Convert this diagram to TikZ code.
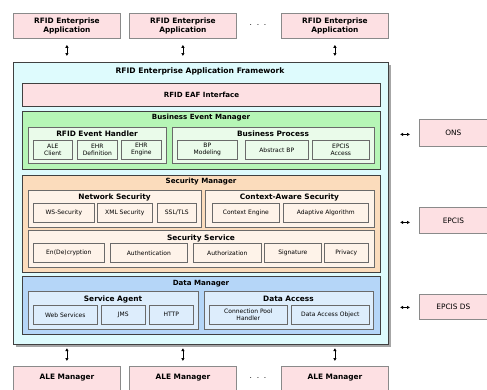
\documentclass[tikz,border=0pt]{standalone}
\usepackage{fontspec}
\setmainfont{DejaVu Sans}
\usetikzlibrary{arrows.meta}

\definecolor{pinkfill}{HTML}{FDE0E3}
\definecolor{framefill}{HTML}{DEFBFD}
\definecolor{greenfill}{HTML}{B6F6B6}
\definecolor{greenlite}{HTML}{EAFBEA}
\definecolor{peachfill}{HTML}{FBDCBC}
\definecolor{peachlite}{HTML}{FEF3E9}
\definecolor{bluefill}{HTML}{B5D6F8}
\definecolor{bluelite}{HTML}{DDEDFC}
\definecolor{darkline}{HTML}{404040}
\definecolor{midline}{HTML}{6A6A6A}
\definecolor{softline}{HTML}{8A8A8A}

% box with top-left corner (#2,#3) and bottom-right corner (#4,#5)
\newcommand\bx[7]{\node[#6, anchor=north west, inner sep=0pt,
  minimum width={(#4-(#2))*1pt}, minimum height={(#5-(#3))*1pt}] (#1) at (#2,#3) {#7};}

\tikzset{
  appbox/.style={draw=softline, line width=0.8pt, fill=pinkfill, align=center,
    font=\fontsize{7.4}{8.2}\selectfont\bfseries},
  extbox/.style={draw=softline, line width=0.8pt, fill=pinkfill,
    font=\fontsize{7.4}{8}\selectfont},
  layer/.style={draw=darkline, line width=1.1pt},
  group/.style={draw=midline, line width=0.8pt},
  item/.style={draw=midline, line width=0.6pt, align=center,
    font=\fontsize{6}{7}\selectfont},
  ttl/.style={font=\fontsize{7.1}{8}\selectfont\bfseries, inner sep=0pt},
  gttl/.style={font=\fontsize{7.4}{8}\selectfont\bfseries, inner sep=0pt},
  dots/.style={font=\fontsize{7.5}{8}\selectfont, inner sep=0pt},
  link/.style={line width=0.7pt, {Latex[length=3pt,width=3.6pt]}-{Latex[length=3pt,width=3.6pt]}},
}

\begin{document}
\begin{tikzpicture}[x=1pt, y=-1pt]
\useasboundingbox[fill=white] (0,0) rectangle (487,389);

% applications on top
\bx{app1}{13}{13}{120}{38}{appbox}{RFID Enterprise\\Application}
\bx{app2}{129}{13}{236}{38}{appbox}{RFID Enterprise\\Application}
\bx{app3}{281}{13}{388}{38}{appbox}{RFID Enterprise\\Application}
\node[dots] (topdots) at (258,25) {.\ \ .\ \ .};

% framework with its shadow
\fill[black!35] (15.5,64.5) rectangle (390.5,346.5);
\bx{frame}{13}{62}{388}{344}{layer, fill=framefill}{}
\node[ttl, font=\fontsize{7.6}{8}\selectfont\bfseries] (frametitle) at (200,71) {RFID Enterprise Application Framework};

% interface
\bx{eaf}{22}{83}{380}{106}{layer, fill=pinkfill, font=\fontsize{7.1}{8}\selectfont\bfseries}{RFID EAF Interface}

% business event manager
\bx{bem}{22}{111}{380}{169}{layer, fill=greenfill}{}
\node[ttl] (bemtitle) at (201,118) {Business Event Manager};
\bx{reh}{28}{127}{166}{163}{group, fill=greenlite}{}
\node[gttl] (rehtitle) at (97,134) {RFID Event Handler};
\bx{aleclient}{33}{140}{72}{159}{item, fill=greenlite}{ALE\\Client}
\bx{ehrdef}{77}{140}{117}{159}{item, fill=greenlite}{EHR\\Definition}
\bx{ehreng}{121}{140}{161}{159}{item, fill=greenlite}{EHR\\Engine}
\bx{bp}{172}{127}{374}{163}{group, fill=greenlite}{}
\node[gttl] (bptitle) at (273,134) {Business Process};
\bx{bpmod}{177}{140}{237}{159}{item, fill=greenlite}{BP\\Modeling}
\bx{absbp}{245}{140}{308}{159}{item, fill=greenlite}{Abstract BP}
\bx{epcisacc}{312}{140}{369}{159}{item, fill=greenlite}{EPCIS\\Access}

% security manager
\bx{sm}{22}{175}{380}{272}{layer, fill=peachfill}{}
\node[ttl] (smtitle) at (201,182) {Security Manager};
\bx{netsec}{28}{190}{201}{227}{group, fill=peachlite}{}
\node[gttl] (netsectitle) at (114.5,197) {Network Security};
\bx{wssec}{33}{203}{94}{222}{item, fill=peachlite}{WS-Security}
\bx{xmlsec}{97}{203}{152}{222}{item, fill=peachlite}{XML Security}
\bx{ssl}{157}{203}{196}{222}{item, fill=peachlite}{SSL/TLS}
\bx{ctxsec}{205}{190}{374}{227}{group, fill=peachlite}{}
\node[gttl] (ctxsectitle) at (289.5,197) {Context-Aware Security};
\bx{ctxeng}{212}{203}{279}{222}{item, fill=peachlite}{Context Engine}
\bx{adapt}{283}{203}{368}{222}{item, fill=peachlite}{Adaptive Algorithm}
\bx{secsvc}{28}{230}{374}{267}{group, fill=peachlite}{}
\node[gttl] (secsvctitle) at (201,238) {Security Service};
\bx{crypt}{33}{243}{104}{262}{item, fill=peachlite}{En(De)cryption}
\bx{authn}{110}{243}{187}{262}{item, fill=peachlite}{Authentication}
\bx{authz}{193}{243}{261}{262}{item, fill=peachlite}{Authorization}
\bx{sign}{264}{243}{321}{262}{item, fill=peachlite}{Signature}
\bx{priv}{324}{243}{368}{262}{item, fill=peachlite}{Privacy}

% data manager
\bx{dm}{22}{276}{380}{334}{layer, fill=bluefill}{}
\node[ttl] (dmtitle) at (201,284) {Data Manager};
\bx{sa}{28}{291}{198}{329}{group, fill=bluelite}{}
\node[gttl] (satitle) at (113,299) {Service Agent};
\bx{ws}{33}{305}{97}{324}{item, fill=bluelite}{Web Services}
\bx{jms}{101}{305}{145}{324}{item, fill=bluelite}{JMS}
\bx{http}{149}{305}{193}{324}{item, fill=bluelite}{HTTP}
\bx{da}{204}{291}{373}{329}{group, fill=bluelite}{}
\node[gttl] (datitle) at (288.5,299) {Data Access};
\bx{pool}{209}{305}{287}{324}{item, fill=bluelite}{Connection Pool\\Handler}
\bx{dao}{291}{305}{369}{324}{item, fill=bluelite}{Data Access Object}

% external services
\bx{ons}{419}{119}{492}{146}{extbox}{\hspace*{-5pt}ONS}
\bx{epcis}{419}{207}{492}{233}{extbox}{\hspace*{-5pt}EPCIS}
\bx{epcisds}{419}{294}{492}{319}{extbox}{\hspace*{-5pt}EPCIS DS}

% ALE managers at the bottom
\bx{ale1}{13}{366}{120}{396}{appbox}{\raisebox{10pt}{ALE Manager}}
\bx{ale2}{129}{366}{236}{396}{appbox}{\raisebox{10pt}{ALE Manager}}
\bx{ale3}{281}{366}{388}{396}{appbox}{\raisebox{10pt}{ALE Manager}}
\node[dots] (botdots) at (258,378) {.\ \ .\ \ .};

% connectors
\foreach \a in {app1,app2,app3}
  \draw[link, shorten <=6pt, shorten >=6pt] (\a.south) -- (\a.south |- frame.north);
\foreach \a in {ale1,ale2,ale3}
  \draw[link, shorten <=5pt, shorten >=3pt] (\a.north) -- (\a.north |- frame.south);
\foreach \e/\dy in {ons/1.5,epcis/2,epcisds/0.5}
  \draw[link, shorten <=9pt, shorten >=11pt] ([yshift=\dy*-1pt]\e.west) -- ([yshift=\dy*-1pt]\e.west -| frame.east);
\end{tikzpicture}
\end{document}
